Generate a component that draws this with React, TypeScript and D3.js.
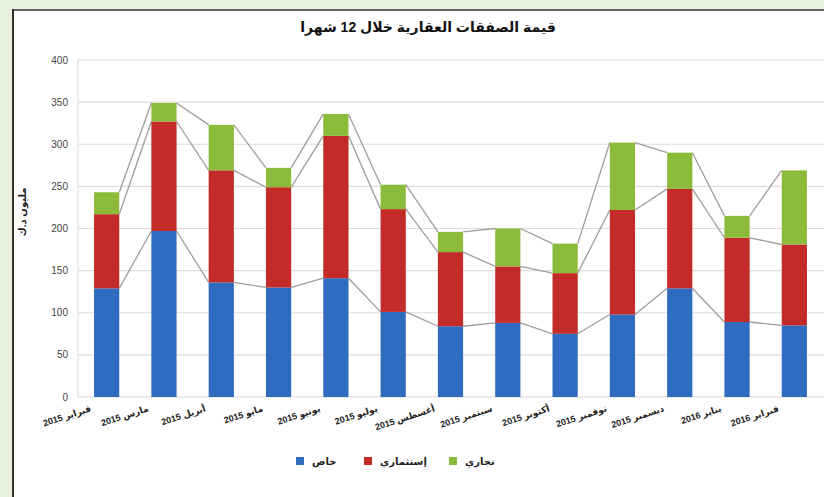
import React, { useEffect, useRef } from "react";
import * as d3 from "d3";

const months = [
  "فبراير 2015",
  "مارس 2015",
  "أبريل 2015",
  "مايو 2015",
  "يونيو 2015",
  "يوليو 2015",
  "أغسطس 2015",
  "سبتمبر 2015",
  "أكتوبر 2015",
  "نوفمبر 2015",
  "ديسمبر 2015",
  "يناير 2016",
  "فبراير 2016",
];

// millions KD
const privateVals = [129, 197, 136, 130, 141, 101, 84, 88, 75, 98, 129, 89, 85];
const investmentVals = [88, 130, 133, 119, 169, 122, 88, 67, 72, 124, 118, 100, 96];
const commercialVals = [26, 22, 54, 23, 26, 29, 24, 45, 35, 80, 43, 26, 88];

const seriesNames = ["خاص", "إستثماري", "تجاري"];
const seriesColors = ["#2f6cc0", "#c22b28", "#8cba3b"];
const yTicks = [0, 50, 100, 150, 200, 250, 300, 350, 400];

const title = "قيمة الصفقات العقارية خلال 12 شهرا";
const yTitle = "مليون د.ك";

const W = 824;
const H = 497;
const margin = { top: 60, right: 1, bottom: 100, left: 78 };

const App: React.FC = () => {
  const svgRef = useRef<SVGSVGElement | null>(null);

  useEffect(() => {
    const svg = d3.select(svgRef.current);
    svg.selectAll("*").remove();

    const font = "Arial, 'DejaVu Sans', sans-serif";

    // page background + frame
    svg.append("rect").attr("width", W).attr("height", H).attr("fill", "#e9f1dd");
    svg.append("rect").attr("x", 12).attr("y", 9).attr("width", W - 12).attr("height", H - 9).attr("fill", "#fff");
    svg.append("line").attr("x1", 12).attr("x2", W).attr("y1", 10).attr("y2", 10)
      .attr("stroke", "#666").attr("stroke-width", 2);
    svg.append("line").attr("x1", 13).attr("x2", 13).attr("y1", 9).attr("y2", H)
      .attr("stroke", "#333").attr("stroke-width", 2);

    const rows = months.map((m, i) => ({
      month: m,
      p: privateVals[i],
      inv: investmentVals[i],
      c: commercialVals[i],
    }));
    const keys = ["p", "inv", "c"];
    const stacked = d3.stack<any>().keys(keys)(rows);

    const x = d3.scaleBand<string>()
      .domain(months)
      .range([margin.left, W - margin.right])
      .paddingInner(0.56)
      .paddingOuter(0.28);
    const y = d3.scaleLinear().domain([0, 400]).range([H - margin.bottom, margin.top]);

    // gridlines
    svg.append("g")
      .selectAll("line")
      .data(yTicks.slice(1))
      .join("line")
      .attr("x1", margin.left)
      .attr("x2", W)
      .attr("y1", (d) => y(d))
      .attr("y2", (d) => y(d))
      .attr("stroke", "#e2dada")
      .attr("stroke-width", 1.2);

    // axes lines
    svg.append("line").attr("x1", margin.left).attr("x2", margin.left)
      .attr("y1", y(400)).attr("y2", y(0)).attr("stroke", "#dcdcdc");
    svg.append("line").attr("x1", margin.left).attr("x2", W)
      .attr("y1", y(0)).attr("y2", y(0)).attr("stroke", "#dcd6d6").attr("stroke-width", 1.2);

    // y tick labels
    svg.append("g")
      .selectAll("text")
      .data(yTicks)
      .join("text")
      .attr("x", 68)
      .attr("y", (d) => y(d) + 3.5)
      .attr("text-anchor", "end")
      .attr("font-family", font)
      .attr("font-size", 10)
      .attr("fill", "#444")
      .text((d) => d);

    // series lines between bars
    const bw = x.bandwidth();
    stacked.forEach((s) => {
      const segs = d3.pairs(s);
      svg.append("g")
        .selectAll("line")
        .data(segs)
        .join("line")
        .attr("x1", (d: any) => x(d[0].data.month)! + bw)
        .attr("x2", (d: any) => x(d[1].data.month)!)
        .attr("y1", (d: any) => y(d[0][1]))
        .attr("y2", (d: any) => y(d[1][1]))
        .attr("stroke", "#a39c9c")
        .attr("stroke-width", 1.3);
    });

    // bars
    svg.append("g")
      .selectAll("g")
      .data(stacked)
      .join("g")
      .attr("fill", (_, i) => seriesColors[i])
      .selectAll("rect")
      .data((d) => d)
      .join("rect")
      .attr("x", (d: any) => x(d.data.month)!)
      .attr("y", (d) => y(d[1]))
      .attr("width", bw)
      .attr("height", (d) => y(d[0]) - y(d[1]));

    // x labels (rotated, ending left of each bar centre)
    svg.append("g")
      .selectAll("text")
      .data(months)
      .join("text")
      .attr("transform", (d) => `translate(${x(d)! + bw / 2 - 15}, ${y(0) + 14}) rotate(-18)`)
      .attr("text-anchor", "end")
      .attr("font-family", font)
      .attr("font-size", 9)
      .attr("font-weight", "bold")
      .attr("fill", "#222")
      .text((d) => d);

    // title
    svg.append("text")
      .attr("x", 428)
      .attr("y", 32)
      .attr("text-anchor", "middle")
      .attr("direction", "rtl")
      .attr("font-family", font)
      .attr("font-size", 14)
      .attr("font-weight", "bold")
      .attr("fill", "#111")
      .text(title);

    // y title
    svg.append("text")
      .attr("transform", `translate(26, 212) rotate(-90)`)
      .attr("text-anchor", "middle")
      .attr("direction", "rtl")
      .attr("font-family", font)
      .attr("font-size", 10)
      .attr("font-weight", "bold")
      .attr("fill", "#222")
      .text(yTitle);

    // legend
    const legendX = [300, 368, 453];
    const legend = svg.append("g");
    seriesNames.forEach((name, i) => {
      const g = legend.append("g").attr("transform", `translate(${legendX[i]}, 462)`);
      g.append("rect").attr("x", -4).attr("y", -5).attr("width", 8).attr("height", 8)
        .attr("fill", seriesColors[i]);
      g.append("text")
        .attr("x", 12)
        .attr("y", 2.5)
        .attr("text-anchor", "start")
        .attr("font-family", font)
        .attr("font-size", 10)
        .attr("font-weight", "bold")
        .attr("fill", "#222")
        .text(name);
    });
  }, []);

  return (
    <svg
      ref={svgRef}
      width={W}
      height={H}
      style={{ position: "absolute", left: 0, top: 0, display: "block" }}
    />
  );
};

export default App;
